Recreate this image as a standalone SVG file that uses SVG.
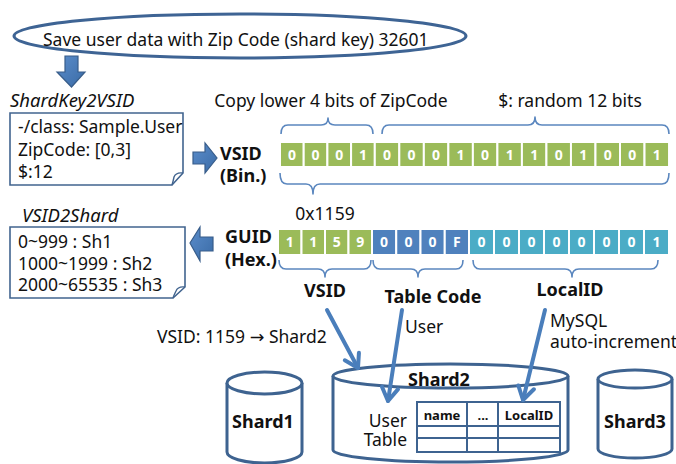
<svg xmlns="http://www.w3.org/2000/svg" width="676" height="464" viewBox="0 0 676 464">
  <style>
    .t { font-family: "Noto Sans", "Liberation Sans", sans-serif; font-size: 17.5px; fill: #111; }
    .it { font-style: italic; font-size: 18.5px; }
    .b { font-weight: bold; font-size: 18px; }
    .d { font-family: "Noto Sans", "Liberation Sans", sans-serif; font-size: 14px; font-weight: bold; fill: #fff; text-anchor: middle; }
    .g { fill: #9BBB59; stroke: #fff; stroke-width: 2; }
    .bl { fill: #4F81BD; stroke: #fff; stroke-width: 2; }
    .tq { fill: #4BACC6; stroke: #fff; stroke-width: 2; }
    .brace { fill: none; stroke: #5B87BF; stroke-width: 1.6; stroke-linejoin: round; }
    .note { fill: #fff; stroke: #41648F; stroke-width: 1.6; }
    .blk { fill: url(#blkFill); stroke: #385D8A; stroke-width: 1.2; }
    .cyl { fill: #fff; stroke: #3E6390; stroke-width: 3; }
    .ptr { fill: none; stroke: #4A7EBB; stroke-width: 4; stroke-linecap: round; }
    .mid { text-anchor: middle; }
    .arw { font-family: "DejaVu Sans", sans-serif; }
    .th { font-size: 13px; font-weight: bold; }
  </style>
  <defs>
    <linearGradient id="blkFill" x1="0" y1="0" x2="1" y2="1">
      <stop offset="0" stop-color="#5B8DCB"/>
      <stop offset="1" stop-color="#3A6BA6"/>
    </linearGradient>
    <marker id="head" markerUnits="userSpaceOnUse" markerWidth="24" markerHeight="24" refX="16" refY="10" orient="auto">
      <path d="M3,2 L16,10 L3,18" fill="none" stroke="#4A7EBB" stroke-width="4" stroke-linecap="round" stroke-linejoin="round"/>
    </marker>
  </defs>

  <rect width="676" height="464" fill="#fff"/>

  <!-- request bubble -->
  <g id="request">
    <ellipse cx="240" cy="36" rx="226" ry="22" fill="none" stroke="#3E6494" stroke-width="3"/>
    <text class="t" x="43" y="46" font-size="19">Save user data with Zip Code (shard key) 32601</text>
  </g>

  <!-- ShardKey2VSID rule -->
  <g id="shardkey2vsid">
    <text class="t it" x="10" y="107" font-size="19">ShardKey2VSID</text>
    <path class="note" d="M10,113 H183 V173 L172,185 H10 Z"/>
    <path d="M183,173 Q176,172 174,177 Q173,182 172,185" fill="none" stroke="#41648F" stroke-width="1.4"/>
    <text class="t" x="18" y="133">-/class: Sample.User</text>
    <text class="t" x="18" y="156">ZipCode: [0,3]</text>
    <text class="t" x="18" y="178">$:12</text>
  </g>

  <!-- VSID2Shard rule -->
  <g id="vsid2shard">
    <text class="t it" x="22" y="222">VSID2Shard</text>
    <path class="note" d="M10,227 H185 V287 L173,298 H10 Z"/>
    <path d="M185,287 Q178,286 176,291 Q174,295 173,298" fill="none" stroke="#41648F" stroke-width="1.4"/>
    <text class="t" x="18" y="248">0~999 : Sh1</text>
    <text class="t" x="18" y="270">1000~1999 : Sh2</text>
    <text class="t" x="18" y="291">2000~65535 : Sh3</text>
  </g>

  <!-- binary VSID row -->
  <g id="vsid-bin">
    <text class="t b" x="220" y="160">VSID</text>
    <text class="t b" x="220" y="182">(Bin.)</text>
    <rect class="g" x="280" y="142" width="23.7" height="25"/>
    <rect class="g" x="303.7" y="142" width="23.7" height="25"/>
    <rect class="g" x="327.4" y="142" width="23.7" height="25"/>
    <rect class="g" x="351.1" y="142" width="23.7" height="25"/>
    <rect class="g" x="374.8" y="142" width="24.52" height="25"/>
    <rect class="g" x="399.32" y="142" width="24.52" height="25"/>
    <rect class="g" x="423.84" y="142" width="24.52" height="25"/>
    <rect class="g" x="448.36" y="142" width="24.52" height="25"/>
    <rect class="g" x="472.88" y="142" width="24.52" height="25"/>
    <rect class="g" x="497.4" y="142" width="24.52" height="25"/>
    <rect class="g" x="521.92" y="142" width="24.52" height="25"/>
    <rect class="g" x="546.44" y="142" width="24.52" height="25"/>
    <rect class="g" x="570.96" y="142" width="24.52" height="25"/>
    <rect class="g" x="595.48" y="142" width="24.52" height="25"/>
    <rect class="g" x="620" y="142" width="24.52" height="25"/>
    <rect class="g" x="644.52" y="142" width="24.52" height="25"/>
    <text class="d" x="291.9" y="159.5">0</text>
    <text class="d" x="315.6" y="159.5">0</text>
    <text class="d" x="339.3" y="159.5">0</text>
    <text class="d" x="363" y="159.5">1</text>
    <text class="d" x="387.1" y="159.5">0</text>
    <text class="d" x="411.6" y="159.5">0</text>
    <text class="d" x="436.1" y="159.5">0</text>
    <text class="d" x="460.6" y="159.5">1</text>
    <text class="d" x="485.1" y="159.5">0</text>
    <text class="d" x="509.7" y="159.5">1</text>
    <text class="d" x="534.2" y="159.5">1</text>
    <text class="d" x="558.7" y="159.5">0</text>
    <text class="d" x="583.2" y="159.5">1</text>
    <text class="d" x="607.7" y="159.5">0</text>
    <text class="d" x="632.3" y="159.5">0</text>
    <text class="d" x="656.8" y="159.5">1</text>
    <!-- field braces above -->
    <text class="t mid" x="331" y="107">Copy lower 4 bits of ZipCode</text>
    <text class="t mid" x="570" y="107">$: random 12 bits</text>
    <path class="brace" d="M281,134 Q281,125 288,125 L321,125 Q328,125 328,118 Q328,125 335,125 L366,125 Q373,125 373,134"/>
    <path class="brace" d="M382,134 Q382,125 389,125 L528,125 Q535,125 535,117 Q535,125 542,125 L662,125 Q669,125 669,134"/>
    <!-- whole-row brace below -->
    <path class="brace" d="M280,173 Q280,184 287,184 L306,184 Q313,184 313,194 Q313,184 320,184 L662,184 Q669,184 669,173"/>
    <text class="t mid" x="325" y="220" font-size="18.5">0x1159</text>
  </g>

  <!-- hex GUID row -->
  <g id="guid-hex">
    <text class="t b" x="225" y="243" font-size="18.5">GUID</text>
    <text class="t b" x="225" y="266">(Hex.)</text>
    <rect class="g" x="278" y="229" width="23.5" height="26"/>
    <rect class="g" x="301.5" y="229" width="23.5" height="26"/>
    <rect class="g" x="325" y="229" width="23.5" height="26"/>
    <rect class="g" x="348.5" y="229" width="23.5" height="26"/>
    <rect class="bl" x="372" y="229" width="24.25" height="26"/>
    <rect class="bl" x="396.25" y="229" width="24.25" height="26"/>
    <rect class="bl" x="420.5" y="229" width="24.25" height="26"/>
    <rect class="bl" x="444.75" y="229" width="24.25" height="26"/>
    <rect class="tq" x="469" y="229" width="25" height="26"/>
    <rect class="tq" x="494" y="229" width="25" height="26"/>
    <rect class="tq" x="519" y="229" width="25" height="26"/>
    <rect class="tq" x="544" y="229" width="25" height="26"/>
    <rect class="tq" x="569" y="229" width="25" height="26"/>
    <rect class="tq" x="594" y="229" width="25" height="26"/>
    <rect class="tq" x="619" y="229" width="25" height="26"/>
    <rect class="tq" x="644" y="229" width="25" height="26"/>
    <text class="d" x="289.8" y="247">1</text>
    <text class="d" x="313.3" y="247">1</text>
    <text class="d" x="336.8" y="247">5</text>
    <text class="d" x="360.3" y="247">9</text>
    <text class="d" x="384.1" y="247">0</text>
    <text class="d" x="408.4" y="247">0</text>
    <text class="d" x="432.6" y="247">0</text>
    <text class="d" x="456.9" y="247">F</text>
    <text class="d" x="481.5" y="247">0</text>
    <text class="d" x="506.5" y="247">0</text>
    <text class="d" x="531.5" y="247">0</text>
    <text class="d" x="556.5" y="247">0</text>
    <text class="d" x="581.5" y="247">0</text>
    <text class="d" x="606.5" y="247">0</text>
    <text class="d" x="631.5" y="247">0</text>
    <text class="d" x="656.5" y="247">1</text>
    <!-- field braces below -->
    <path class="brace" d="M279,260 Q279,269 286,269 L318,269 Q325,269 325,277 Q325,269 332,269 L364,269 Q371,269 371,260"/>
    <path class="brace" d="M373,260 Q373,269 380,269 L411,269 Q418,269 418,277 Q418,269 425,269 L456,269 Q463,269 463,260"/>
    <path class="brace" d="M473,260 Q473,269 480,269 L565,269 Q572,269 572,277 Q572,269 579,269 L651,269 Q658,269 658,260"/>
    <text class="t b mid" x="325" y="297">VSID</text>
    <text class="t b mid" x="433" y="303" font-size="19">Table Code</text>
    <text class="t b mid" x="570" y="296">LocalID</text>
  </g>

  <!-- shard databases -->
  <g id="shard1">
    <path class="cyl" d="M227,383 V452 A37.5,11 0 0 0 302,452 V383"/>
    <ellipse class="cyl" cx="264.5" cy="383" rx="37.5" ry="11"/>
    <text class="t b mid" x="263" y="428">Shard1</text>
  </g>

  <g id="shard2">
    <path class="cyl" d="M333,376 V450 A117.5,12 0 0 0 568,450 V376"/>
    <ellipse class="cyl" cx="450.5" cy="376" rx="117.5" ry="12"/>
    <text class="t b mid" x="439" y="386">Shard2</text>
    <text class="t" x="407" y="427" text-anchor="end" fill="#333" font-size="17">User</text>
    <text class="t" x="407" y="446" text-anchor="end" fill="#333" font-size="17">Table</text>
    <g fill="none" stroke="#3E6390" stroke-width="2">
      <rect x="417" y="402" width="143" height="50"/>
      <line x1="417" y1="426" x2="560" y2="426"/>
      <line x1="417" y1="438" x2="560" y2="438"/>
      <line x1="467" y1="402" x2="467" y2="452"/>
      <line x1="498" y1="402" x2="498" y2="452"/>
    </g>
    <text class="t th mid" x="442" y="420">name</text>
    <text class="t th mid" x="483" y="420">...</text>
    <text class="t th mid" x="529" y="420" font-size="12.5">LocalID</text>
  </g>

  <g id="shard3">
    <path class="cyl" d="M598,379 V449 A37,9 0 0 0 672,449 V379"/>
    <ellipse class="cyl" cx="635" cy="379" rx="37" ry="9"/>
    <text class="t b mid" x="635" y="428">Shard3</text>
  </g>

  <!-- arrows and their labels -->
  <g id="connectors">
    <path class="blk" d="M65,56 H78 V72 H85 L71.5,87 L57,72 H65 Z"/>
    <path class="blk" d="M193,152 H205 V143 L217,158 L205,173 V164 H193 Z"/>
    <path class="blk" d="M213,237 H200 V227 L190,243 L200,261 V251 H213 Z"/>
    <line class="ptr" x1="327" y1="310" x2="358" y2="368" marker-end="url(#head)"/>
    <line class="ptr" x1="402" y1="310" x2="388" y2="401" marker-end="url(#head)"/>
    <line class="ptr" x1="545" y1="310" x2="523" y2="400" marker-end="url(#head)"/>
    <text class="t" x="157" y="343">VSID: 1159 <tspan class="arw">→</tspan> Shard2</text>
    <text class="t" x="405" y="333">User</text>
    <text class="t" x="550" y="327">MySQL</text>
    <text class="t" x="550" y="348">auto-increment</text>
  </g>
</svg>
